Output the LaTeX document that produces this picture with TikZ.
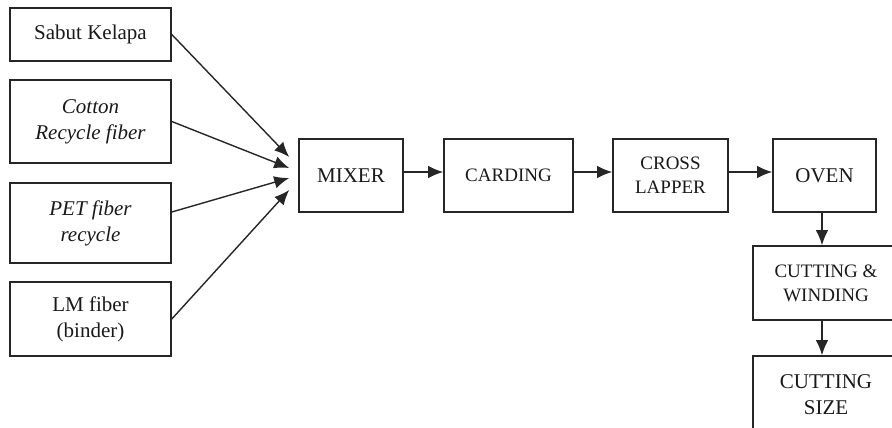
\documentclass[tikz,border=0pt]{standalone}
\usepackage{fontspec}
\setmainfont{Liberation Serif}
\usetikzlibrary{arrows.meta}
\begin{document}
\begin{tikzpicture}[x=1pt, y=-1pt,
  box/.style={draw=black!85, line width=1.6pt, align=center, inner sep=0pt,
    text=black!90, font=\fontsize{21}{26}\selectfont},
  small/.style={font=\fontsize{19}{24}\selectfont},
  flow/.style={-{Latex[length=15pt,width=12.5pt]}, line width=1.4pt, draw=black!85}]
\useasboundingbox (0,0) rectangle (892,428);
\clip (0,0) rectangle (892,428);
% raw materials
\node [box, minimum width=161pt, minimum height=53pt] (sabut) at (90.5,34.5) {Sabut Kelapa};
\node [box, minimum width=161pt, minimum height=83pt] (cotton) at (90.5,121.5) {\itshape Cotton\\\itshape Recycle fiber};
\node [box, minimum width=161pt, minimum height=80pt] (pet) at (90.5,223) {\itshape PET fiber\\\itshape recycle};
\node [box, minimum width=161pt, minimum height=74pt] (lm) at (90.5,319) {LM fiber\\(binder)};
% process line
\node [box, minimum width=104pt, minimum height=73pt] (mixer) at (351,175.5) {MIXER};
\node [box, small, minimum width=129pt, minimum height=73pt] (carding) at (508.5,175.5) {CARDING};
\node [box, small, minimum width=115pt, minimum height=73pt] (lapper) at (670.5,175.5) {CROSS\\LAPPER};
\node [box, minimum width=103pt, minimum height=73pt] (oven) at (824.5,175.5) {OVEN};
\node [box, small, minimum width=146pt, minimum height=74pt] (winding) at (826,283) {CUTTING \&\\WINDING};
\node [box, minimum width=146pt, minimum height=78pt] (size) at (826,395) {CUTTING\\SIZE};
% inputs meet just left of the mixer
\coordinate (in1) at ([xshift=-9pt,yshift=18.5pt]mixer.west);
\coordinate (in2) at ([xshift=-9pt,yshift=7.5pt]mixer.west);
\coordinate (in3) at ([xshift=-9pt,yshift=-2.5pt]mixer.west);
\coordinate (in4) at ([xshift=-9pt,yshift=-14.5pt]mixer.west);
\draw [flow] (sabut.east) -- (in1);
\draw [flow] (cotton.east) -- (in2);
\draw [flow] ([yshift=11pt]pet.east) -- (in3);
\draw [flow] (lm.east) -- (in4);
\draw [flow] ([yshift=3.5pt]mixer.east) -- ([yshift=3.5pt]carding.west);
\draw [flow] ([yshift=3.5pt]carding.east) -- ([yshift=3.5pt]lapper.west);
\draw [flow] ([yshift=3.5pt]lapper.east) -- ([yshift=3.5pt]oven.west);
\draw [flow] ([xshift=-2.5pt]oven.south) -- ([xshift=-2.5pt]oven.south |- winding.north);
\draw [flow] ([xshift=-2.5pt]oven.south |- winding.south) -- ([xshift=-2.5pt]oven.south |- size.north);
\end{tikzpicture}
\end{document}
